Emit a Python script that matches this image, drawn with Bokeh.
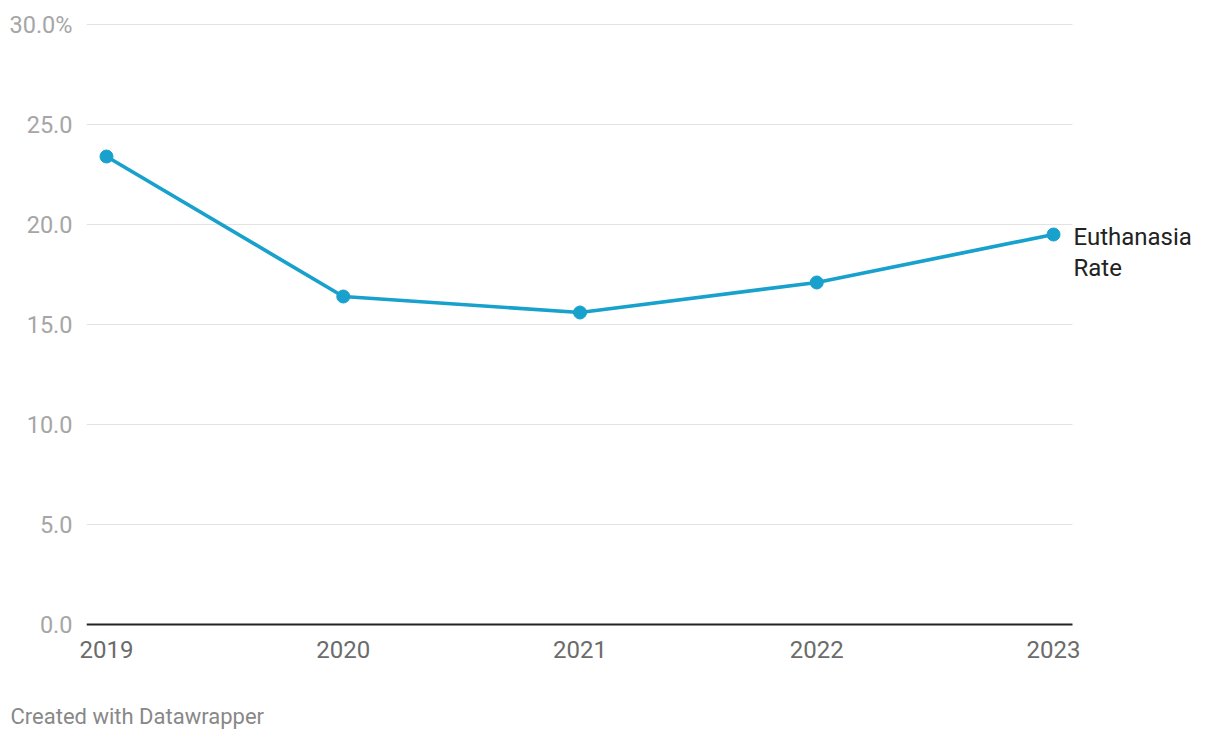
from bokeh.plotting import figure
from bokeh.models import Range1d, FixedTicker, Title, ColumnDataSource
from bokeh.embed import file_html
from bokeh.resources import INLINE

years = [2019, 2020, 2021, 2022, 2023]
rates = [23.4, 16.4, 15.6, 17.1, 19.5]
y_ticks = [0, 5, 10, 15, 20, 25, 30]
y_tick_labels = ["0.0", "5.0", "10.0", "15.0", "20.0", "25.0", "30.0%"]
x_tick_labels = ["2019", "2020", "2021", "2022", "2023"]
series_name = "Euthanasia\nRate"
footer = "Created with Datawrapper"

FONT = "Roboto"
BLUE = "#18a1cd"

X_START, X_END = 2018.9155, 2023.6884
GRID_END = 2023.0802

p = figure(width=1216, height=736, output_backend="svg", toolbar_location=None,
           x_range=Range1d(X_START, X_END), y_range=Range1d(-0.5, 30.5),
           min_border_left=86, min_border_right=0, min_border_top=14, min_border_bottom=102)
p.outline_line_color = None
p.background_fill_color = "white"
p.border_fill_color = "white"
p.xgrid.grid_line_color = None
p.ygrid.grid_line_color = None

# gridlines limited to the chart area
p.segment(x0=[X_START] * len(y_ticks[1:]), x1=[GRID_END] * len(y_ticks[1:]),
          y0=y_ticks[1:], y1=y_ticks[1:], line_color="#e3e3e3", line_width=1)
# baseline
p.segment(x0=[X_START], x1=[GRID_END], y0=[0], y1=[0], line_color="#222222", line_width=2)

src = ColumnDataSource(dict(x=years, y=rates))
p.line("x", "y", source=src, line_color=BLUE, line_width=3.7)
p.scatter("x", "y", source=src, size=13, fill_color=BLUE, line_color=BLUE)

p.text(x=[years[-1]], y=[rates[-1]], text=[series_name], x_offset=20, y_offset=18,
       text_align="left", text_baseline="middle", text_font={"value": FONT},
       text_font_size="24px", text_color="#222222", text_line_height=1.08)

p.yaxis.ticker = FixedTicker(ticks=y_ticks)
p.yaxis.major_label_overrides = {t: l for t, l in zip(y_ticks, y_tick_labels)}
p.yaxis.axis_line_color = None
p.yaxis.major_tick_line_color = None
p.yaxis.minor_tick_line_color = None
p.yaxis.major_label_standoff = 8
p.yaxis.major_label_text_font = FONT
p.yaxis.major_label_text_font_size = "23.5px"
p.yaxis.major_label_text_color = "#a6a6a6"

p.xaxis.ticker = FixedTicker(ticks=years)
p.xaxis.major_label_overrides = {t: l for t, l in zip(years, x_tick_labels)}
p.xaxis.axis_line_color = None
p.xaxis.major_tick_line_color = None
p.xaxis.minor_tick_line_color = None
p.xaxis.major_label_standoff = 0
p.xaxis.major_label_text_font = FONT
p.xaxis.major_label_text_font_size = "24px"
p.xaxis.major_label_text_color = "#6b6b6b"

# empty spacer between the axis and the footer
p.add_layout(Title(text=" ", text_font_size="1px", standoff=36), "below")
p.add_layout(Title(text=footer, align="left", offset=-76, text_font=FONT,
                   text_font_size="22px", text_font_style="normal",
                   text_color="#888888", standoff=4, vertical_align="bottom"), "below")

open("out.html", "w").write(file_html(p, INLINE))
